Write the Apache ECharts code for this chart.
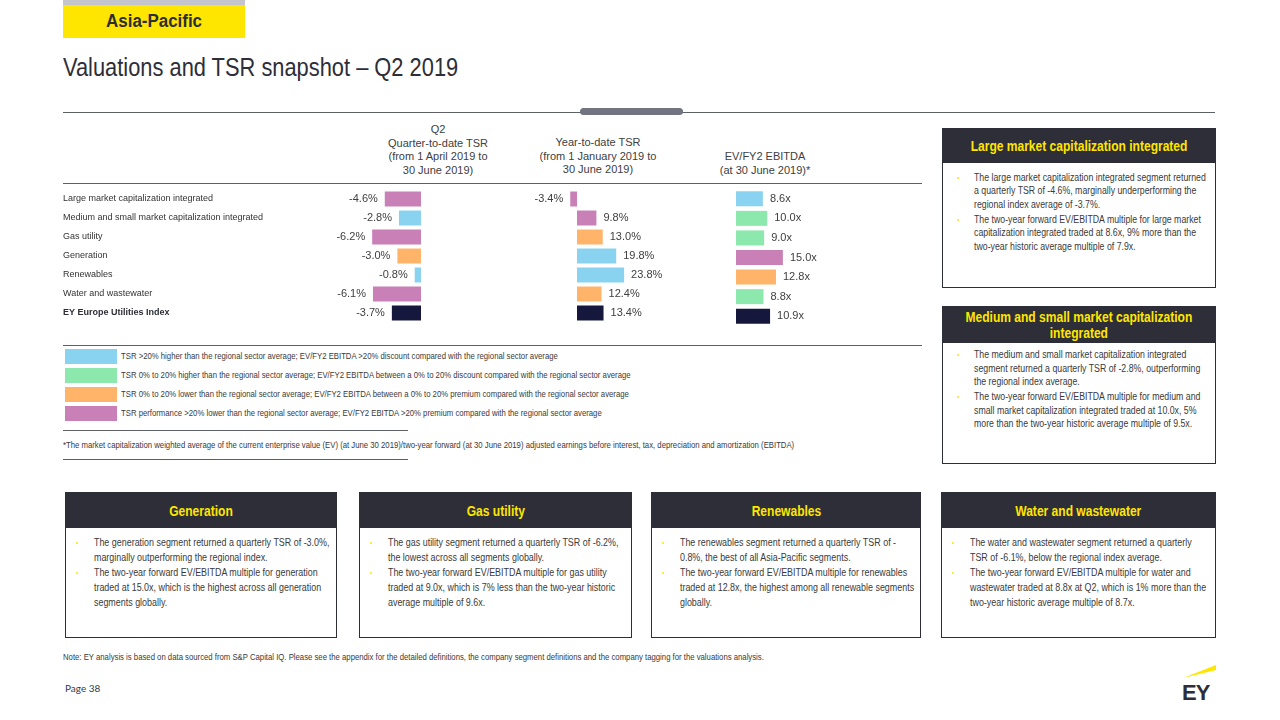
<!DOCTYPE html>
<html>
<head>
<meta charset="utf-8">
<script src="https://cdn.jsdelivr.net/npm/echarts@6/dist/echarts.min.js"></script>
<style>
  html,body{margin:0;padding:0;background:#fff;}
  #page{position:relative;width:1280px;height:720px;overflow:hidden;background:#fff;font-family:'Liberation Sans',Arial,sans-serif;color:#3a3a3a;}
  .abs{position:absolute;}
  .sx{display:inline-block;white-space:nowrap;transform-origin:0 50%;}
  .sxc{display:inline-block;white-space:nowrap;transform-origin:50% 50%;}
  .hline{position:absolute;height:0;border-top:1px solid #5f5f66;}
  .hdr{position:absolute;text-align:center;font-size:11px;line-height:13.5px;color:#404040;white-space:nowrap;transform:translateX(-50%);}
  .box{position:absolute;border:1px solid #2E2E38;box-sizing:border-box;background:#fff;overflow:hidden;}
  .box .bh{background:#2E2E38;color:#FFE600;font-weight:bold;text-align:center;display:flex;align-items:center;justify-content:center;}
  .box ul{list-style:none;margin:0;padding:0;transform-origin:0 0;white-space:nowrap;}
  .box li{position:relative;white-space:nowrap;}
  .leg{position:absolute;left:65px;height:15px;width:52px;}
  .legt{position:absolute;left:121px;font-size:9.5px;line-height:12px;color:#3a3a3a;white-space:nowrap;transform:scaleX(0.815);transform-origin:0 50%;}
  #chart{position:absolute;left:0;top:0;width:1280px;height:720px;}
</style>
</head>
<body>
<div id="page">
  <!-- region tag -->
  <div class="abs" style="left:63px;top:0;width:182px;height:5px;background:#C4C4CD;"></div>
  <div class="abs" style="left:63px;top:5px;width:182px;height:33px;background:#FFE600;color:#2E2E38;font-weight:bold;font-size:18px;line-height:33px;text-align:center;"><span class="sxc" style="transform:scaleX(0.94);">Asia-Pacific</span></div>
  <div class="abs" style="left:63px;top:51px;font-size:25px;line-height:32px;color:#2E2E38;white-space:nowrap;transform:scaleX(0.874);transform-origin:0 50%;">Valuations and TSR snapshot – Q2 2019</div>

  <div class="hline" style="left:63px;top:112px;width:1152px;"></div>
  <div class="abs" style="left:580px;top:108px;width:103px;height:7px;border-radius:4px;background:#747480;"></div>

  <div class="hdr" id="h1" style="left:438px;top:123px;"></div>
  <div class="hdr" id="h2" style="left:598px;top:136px;"></div>
  <div class="hdr" id="h3" style="left:765px;top:150px;"></div>

  <div class="hline" style="left:63px;top:183px;width:859px;"></div>
  <div class="hline" style="left:63px;top:345px;width:859px;"></div>

  <div id="legend"></div>

  <div class="hline" style="left:63px;top:430px;width:345px;"></div>
  <div class="abs" id="foot" style="left:63px;top:439px;font-size:9.5px;line-height:12px;color:#3a3a3a;white-space:nowrap;transform:scaleX(0.815);transform-origin:0 50%;"></div>
  <div class="hline" style="left:63px;top:459px;width:345px;"></div>

  <div id="boxes"></div>

  <div class="abs" id="note" style="left:63px;top:651px;font-size:9.5px;line-height:12px;color:#3a3a3a;white-space:nowrap;transform:scaleX(0.815);transform-origin:0 50%;"></div>
  <div class="abs" style="left:65px;top:681px;font-family:Lato,'Open Sans',sans-serif;font-size:10px;line-height:14px;color:#3a3a3a;">Page 38</div>

  <svg class="abs" style="left:1180px;top:662px;" width="40" height="42" viewBox="0 0 40 42">
    <polygon points="3,16 36,3 36,8" fill="#FFE600"/>
    <text x="2" y="38" font-family="Liberation Sans, Arial, sans-serif" font-weight="bold" font-size="22" fill="#2E2E38" letter-spacing="-1">EY</text>
  </svg>

  <div id="chart"></div>
</div>

<script>
// ---------- data ----------
const categories = [
  'Large market capitalization integrated',
  'Medium and small market capitalization integrated',
  'Gas utility',
  'Generation',
  'Renewables',
  'Water and wastewater',
  'EY Europe Utilities Index'
];
const qtdTSR   = [-4.6, -2.8, -6.2, -3.0, -0.8, -6.1, -3.7];
const qtdBand  = ['p', 'b', 'p', 'o', 'b', 'p', 'i'];
const ytdTSR   = [-3.4, 9.8, 13.0, 19.8, 23.8, 12.4, 13.4];
const ytdBand  = ['p', 'p', 'o', 'b', 'b', 'o', 'i'];
const evEbitda = [8.6, 10.0, 9.0, 15.0, 12.8, 8.8, 10.9];
const evBand   = ['b', 'g', 'g', 'p', 'o', 'g', 'i'];

const headerQtd = ['Q2', 'Quarter-to-date TSR', '(from 1 April 2019 to', '30 June 2019)'];
const headerYtd = ['Year-to-date TSR', '(from 1 January 2019  to', '30 June 2019)'];
const headerEv  = ['EV/FY2 EBITDA', '(at 30 June 2019)*'];

const legendBands = ['b', 'g', 'o', 'p'];
const legendTexts = [
  'TSR >20% higher than the regional sector average; EV/FY2 EBITDA >20% discount compared with the regional sector average',
  'TSR 0% to 20% higher than the regional sector average; EV/FY2 EBITDA between a 0% to 20% discount compared with the regional sector average',
  'TSR 0% to 20% lower than the regional sector average; EV/FY2 EBITDA between a 0% to 20% premium compared with the regional sector average',
  'TSR performance >20% lower than the regional sector average; EV/FY2 EBITDA >20% premium compared with the regional sector average'
];
const footnote = '*The market capitalization weighted average of the current enterprise value (EV) (at June 30 2019)/two-year forward (at 30 June 2019) adjusted earnings before interest, tax, depreciation and amortization (EBITDA)';
const noteText = 'Note: EY analysis is based on data sourced from S&P Capital IQ. Please see the appendix for the detailed definitions, the company segment definitions and the company tagging for the valuations analysis.';

const boxTitles = [
  ['Large market capitalization integrated'],
  ['Medium and small market capitalization', 'integrated'],
  ['Generation'], ['Gas utility'], ['Renewables'], ['Water and wastewater']
];
const boxBullets = [
  [['The large market capitalization integrated segment returned','a quarterly TSR of -4.6%, marginally underperforming the','regional index average of -3.7%.'],
   ['The two-year forward EV/EBITDA multiple for large market','capitalization integrated traded at 8.6x, 9% more than the','two-year historic average multiple of 7.9x.']],
  [['The medium and small market capitalization integrated','segment returned a quarterly TSR of -2.8%, outperforming','the regional index average.'],
   ['The two-year forward EV/EBITDA multiple for medium and','small market capitalization integrated traded at 10.0x, 5%','more than the two-year historic average multiple of 9.5x.']],
  [['The generation segment returned a quarterly TSR of -3.0%,','marginally outperforming the regional index.'],
   ['The two-year forward EV/EBITDA multiple for generation','traded at 15.0x, which is the highest across all generation','segments globally.']],
  [['The gas utility segment returned a quarterly TSR of -6.2%,','the lowest across all segments globally.'],
   ['The two-year forward EV/EBITDA multiple for gas utility','traded at 9.0x, which is 7% less than the two-year historic','average multiple of 9.6x.']],
  [['The renewables segment returned a quarterly TSR of -','0.8%, the best of all Asia-Pacific segments.'],
   ['The two-year forward EV/EBITDA multiple for renewables','traded at 12.8x, the highest among all renewable segments','globally.']],
  [['The water and wastewater segment returned a quarterly','TSR of -6.1%, below the regional index average.'],
   ['The two-year forward EV/EBITDA multiple for water and','wastewater traded at 8.8x at Q2, which is 1% more than the','two-year historic average multiple of 8.7x.']]
];

// ---------- styles ----------
const bandColor = { b: '#89D3F0', g: '#8CE8AD', o: '#FFB46A', p: '#C880B7', i: '#15173D' };
const REG = "'Liberation Sans',Arial,sans-serif";

// ---------- HTML parts ----------
document.getElementById('h1').innerHTML = headerQtd.join('<br>');
document.getElementById('h2').innerHTML = headerYtd.join('<br>');
document.getElementById('h3').innerHTML = headerEv.join('<br>');

const legRows = [349, 368, 387, 406];
let lh = '';
legendTexts.forEach((t, i) => {
  lh += '<div class="leg" style="top:' + legRows[i] + 'px;background:' + bandColor[legendBands[i]] + ';"></div>';
  lh += '<div class="legt" style="top:' + (legRows[i] + 1) + 'px;">' + t.replace(/>/g, '&gt;') + '</div>';
});
document.getElementById('legend').innerHTML = lh;
document.getElementById('foot').textContent = footnote;
document.getElementById('note').textContent = noteText;

const boxGeo = [
  // left, top, width, height, headerH, titleSize, titleLH, bodyPadTop, fontSize, lineH, paraGap, textLeft(px on page), bulletLeft(px on page), scale
  [942, 128, 274, 160, 34, 14, 16, 8, 10, 13.4, 1.5, 31, 14, 0.876],
  [942, 306, 274, 158, 36, 14, 16, 5, 10, 13.6, 1.5, 31, 14, 0.876],
  [65, 492, 272, 146, 35, 14, 16, 7, 10.5, 15, 0, 28, 10, 0.85],
  [359, 492, 273, 146, 35, 14, 16, 7, 10.5, 15, 0, 28, 10, 0.85],
  [651, 492, 270, 146, 35, 14, 16, 7, 10.5, 15, 0, 28, 10, 0.85],
  [941, 492, 275, 146, 35, 14, 16, 7, 10.5, 15, 0, 28, 10, 0.85]
];
let bh = '';
boxGeo.forEach((g, i) => {
  const [l, t, w, h, hh, ts, tlh, pt, fs, lhh, pg, tl, bl, s] = g;
  bh += '<div class="box" style="left:' + l + 'px;top:' + t + 'px;width:' + w + 'px;height:' + h + 'px;">';
  bh += '<div class="bh" style="height:' + hh + 'px;font-size:' + ts + 'px;line-height:' + tlh + 'px;"><span class="sxc" style="transform:scaleX(0.86);">' + boxTitles[i].join('<br>') + '</span></div>';
  bh += '<ul style="padding-top:' + pt + 'px;font-size:' + fs + 'px;line-height:' + lhh + 'px;color:#3a3a3a;transform:scaleX(' + s + ');">';
  boxBullets[i].forEach(lines => {
    bh += '<li style="padding-left:' + (tl / s).toFixed(1) + 'px;margin-bottom:' + pg + 'px;"><span style="position:absolute;left:' + (bl / s).toFixed(1) + 'px;top:0;color:#FFE600;font-size:8px;">•</span>' + lines.join('<br>') + '</li>';
  });
  bh += '</ul></div>';
});
document.getElementById('boxes').innerHTML = bh;

// ---------- chart ----------
const chart = echarts.init(document.getElementById('chart'), null, { renderer: 'canvas' });
const toItems = (vals, bands) => vals.map((v, i) => ({ value: v, itemStyle: { color: bandColor[bands[i]] } }));
const hiddenY = idx => ({
  type: 'category', gridIndex: idx, inverse: true, data: categories,
  axisLine: { show: false }, axisTick: { show: false }, axisLabel: { show: false }, splitLine: { show: false }
});
const labelBase = { show: true, fontSize: 11, color: '#404040', fontFamily: REG, distance: 7 };

chart.setOption({
  animation: false,
  grid: [
    { left: 358, width: 63, top: 189.5, height: 133 },
    { left: 567.1, width: 59.4, top: 189.5, height: 133 },
    { left: 736, width: 50, top: 189, height: 137 }
  ],
  xAxis: [
    { type: 'value', gridIndex: 0, min: -8, max: 0, show: false },
    { type: 'value', gridIndex: 1, min: -5, max: 25, show: false },
    { type: 'value', gridIndex: 2, min: 0, max: 16, show: false }
  ],
  yAxis: [
    {
      type: 'category', gridIndex: 0, inverse: true, data: categories,
      axisLine: { show: false }, axisTick: { show: false }, splitLine: { show: false },
      axisLabel: {
        margin: 295, align: 'left', fontSize: 9, color: '#333', fontFamily: REG,
        formatter: (v, i) => i === categories.length - 1 ? '{b|' + v + '}' : v,
        rich: { b: { fontWeight: 'bold', fontSize: 9, color: '#2E2E38', fontFamily: REG } }
      }
    },
    hiddenY(1),
    hiddenY(2)
  ],
  series: [
    {
      type: 'bar', xAxisIndex: 0, yAxisIndex: 0, barWidth: 15, silent: true,
      data: toItems(qtdTSR, qtdBand),
      label: Object.assign({}, labelBase, { position: 'left', formatter: p => p.value.toFixed(1) + '%' })
    },
    {
      type: 'bar', xAxisIndex: 1, yAxisIndex: 1, barWidth: 15, silent: true,
      data: ytdTSR.map((v, i) => ({
        value: v, itemStyle: { color: bandColor[ytdBand[i]] },
        label: { position: v < 0 ? 'left' : 'right' }
      })),
      label: Object.assign({}, labelBase, { formatter: p => p.value.toFixed(1) + '%' })
    },
    {
      type: 'bar', xAxisIndex: 2, yAxisIndex: 2, barWidth: 15, silent: true,
      data: toItems(evEbitda, evBand),
      label: Object.assign({}, labelBase, { position: 'right', formatter: p => p.value.toFixed(1) + 'x' })
    }
  ]
});
</script>
</body>
</html>
